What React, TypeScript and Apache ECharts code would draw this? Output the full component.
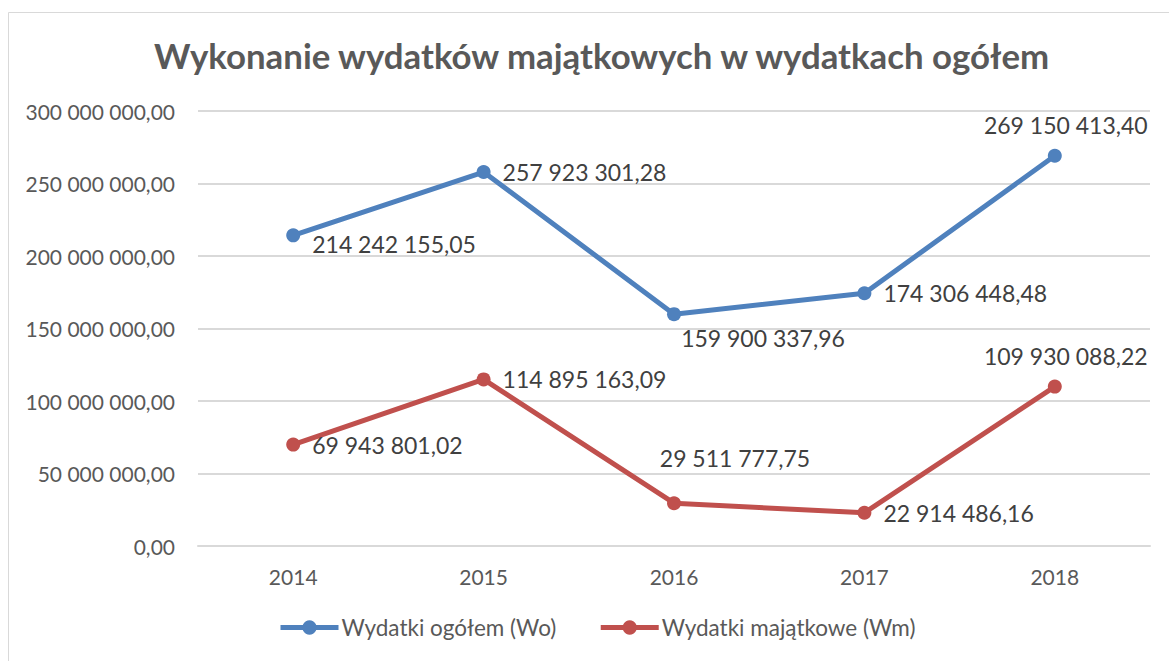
import React, { useEffect, useRef } from "react";
import * as echarts from "echarts";

const years = ["2014", "2015", "2016", "2017", "2018"];
const wydatkiOgolem = [214242155.05, 257923301.28, 159900337.96, 174306448.48, 269150413.4];
const wydatkiMajatkowe = [69943801.02, 114895163.09, 29511777.75, 22914486.16, 109930088.22];
const posOgolem = ["right", "right", "bottom", "right", "top"];
const posMajatkowe = ["right", "right", "top", "right", "top"];

const FONT = "Lato";
const TEXT = "#595959";

function fmt(v: number): string {
  const parts = v.toFixed(2).split(".");
  const int = parts[0].replace(/\B(?=(\d{3})+(?!\d))/g, " ");
  return int + "," + parts[1];
}

function labelFor(pos: string, idx: number, series: number) {
  const base: any = { show: true, position: pos, fontFamily: FONT, fontSize: 23, color: "#404040", distance: 12 };
  if (series === 0 && idx === 0) base.offset = [0, 9];
  if (series === 0 && idx === 2) base.offset = [89, -7];
  if (series === 0 && idx === 4) base.offset = [11, 0];
  if (series === 1 && idx === 4) base.offset = [11, 0];
  if (series === 1 && idx === 2) { base.distance = 30; base.offset = [61, 3]; }
  return base;
}

export default function App() {
  const ref = useRef<HTMLDivElement>(null);
  useEffect(() => {
    const chart = echarts.init(ref.current!, null, { renderer: "svg" });
    chart.setOption({
      animation: false,
      backgroundColor: "#ffffff",
      title: {
        text: "Wykonanie wydatków majątkowych w wydatkach ogółem",
        left: 149,
        top: 33,
        textStyle: { fontFamily: FONT, fontWeight: "bold", fontSize: 34.8, color: TEXT },
      },
      graphic: [
        {
          type: "rect",
          shape: { x: 8.5, y: 12.5, width: 1300, height: 800 },
          style: { fill: "none", stroke: "#d9d9d9", lineWidth: 1 },
          silent: true,
        },
      ],
      legend: {
        bottom: 17,
        left: 273,
        itemWidth: 58,
        itemHeight: 18,
        itemGap: 42,
        lineStyle: { width: 5 },
        textStyle: { fontFamily: FONT, fontSize: 22.5, color: TEXT, padding: [0, 0, 0, -2] },
        data: ["Wydatki ogółem (Wo)", "Wydatki majątkowe (Wm)"],
      },
      grid: { left: 198, right: 19, top: 111, bottom: 115, containLabel: false },
      xAxis: {
        type: "category",
        data: years,
        boundaryGap: true,
        axisLine: { show: true, lineStyle: { color: "#d9d9d9", width: 2 } },
        axisTick: { show: false },
        axisLabel: { fontFamily: FONT, fontSize: 21, color: TEXT, margin: 20 },
      },
      yAxis: {
        type: "value",
        min: 0,
        max: 300000000,
        interval: 50000000,
        axisLine: { show: false },
        axisTick: { show: false },
        splitLine: { lineStyle: { color: "#d9d9d9", width: 2 } },
        axisLabel: { fontFamily: FONT, fontSize: 21, color: TEXT, margin: 23, formatter: (v: number) => fmt(v) },
      },
      series: [
        {
          name: "Wydatki ogółem (Wo)",
          type: "line",
          data: wydatkiOgolem.map((v, i) => ({ value: v, label: labelFor(posOgolem[i], i, 0) })),
          symbol: "circle",
          symbolSize: 14,
          lineStyle: { width: 5, color: "#4f81bd" },
          itemStyle: { color: "#4f81bd" },
          label: { show: true, formatter: (p: any) => fmt(p.value) },
        },
        {
          name: "Wydatki majątkowe (Wm)",
          type: "line",
          data: wydatkiMajatkowe.map((v, i) => ({ value: v, label: labelFor(posMajatkowe[i], i, 1) })),
          symbol: "circle",
          symbolSize: 14,
          lineStyle: { width: 5, color: "#c0504d" },
          itemStyle: { color: "#c0504d" },
          label: { show: true, formatter: (p: any) => fmt(p.value) },
        },
      ],
    });
    return () => chart.dispose();
  }, []);
  return (
    <div
      ref={ref}
      style={{ position: "absolute", left: 0, top: 0, width: 1169, height: 661 }}
    />
  );
}
